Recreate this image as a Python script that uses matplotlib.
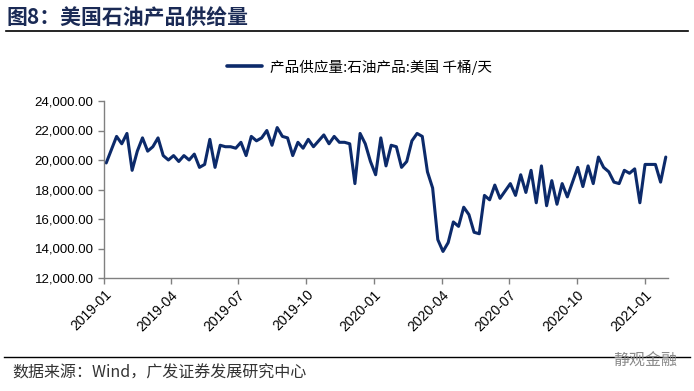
import matplotlib
matplotlib.use("Agg")
import matplotlib.pyplot as plt
from matplotlib.ticker import FuncFormatter
import pandas as pd

plt.rcParams['font.family'] = ['Liberation Sans', 'Noto Sans CJK SC', 'DejaVu Sans']

# weekly US petroleum product supplied, thousand barrels/day
start_date = "2019-01-04"
supply = [
    19800, 20700, 21600, 21100, 21800, 19300, 20600, 21500, 20600, 20900,
    21500, 20300, 20000, 20300, 19900, 20300, 20000, 20400, 19500, 19700,
    21400, 19500, 21000, 20900, 20900, 20800, 21200, 20300, 21600, 21300,
    21500, 22000, 21000, 22200, 21600, 21500, 20300, 21200, 20800, 21400,
    20900, 21300, 21700, 21100, 21600, 21200, 21200, 21100, 18400, 21800,
    21100, 19900, 19000, 21500, 19600, 21000, 20900, 19500, 19900, 21300,
    21800, 21600, 19200, 18100, 14600, 13800, 14400, 15800, 15500, 16800,
    16300, 15100, 15000, 17600, 17300, 18300, 17400, 17900, 18400, 17600,
    19000, 17800, 19300, 17100, 19600, 16900, 18600, 17000, 18400, 17500,
    18500, 19500, 18200, 19600, 18400, 20200, 19500, 19200, 18500, 18400,
    19300, 19100, 19400, 17100, 19700, 19700, 19700, 18500, 20200,
]
dates = pd.date_range(start_date, periods=len(supply), freq="7D")

tick_labels = ["2019-01", "2019-04", "2019-07", "2019-10", "2020-01",
               "2020-04", "2020-07", "2020-10", "2021-01"]
y_ticks = [12000, 14000, 16000, 18000, 20000, 22000, 24000]

title = "图8：美国石油产品供给量"
legend_label = "产品供应量:石油产品:美国 千桶/天"
source = "数据来源：Wind，广发证券发展研究中心"

navy = "#0c2a6a"
cjk = ['Noto Sans CJK SC', 'DejaVu Sans']

fig = plt.figure(figsize=(6.94, 3.91), dpi=100)
ax = fig.add_axes([104 / 694, 1 - 278 / 391, (668 - 104) / 694, (278 - 101) / 391])

ax.plot(dates, supply, color=navy, lw=2.2, solid_joinstyle="round",
        solid_capstyle="round", label=legend_label)

ax.set_ylim(12000, 24000)
ax.set_yticks(y_ticks)
ax.yaxis.set_major_formatter(FuncFormatter(lambda v, p: f"{v:,.2f}"))
ax.set_xlim(pd.Timestamp("2019-01-01"), pd.Timestamp("2021-02-01"))
ax.set_xticks([pd.Timestamp(t + "-01") for t in tick_labels])
ax.set_xticklabels(tick_labels, rotation=45, ha="right", rotation_mode="anchor")

for s in ["top", "right"]:
    ax.spines[s].set_visible(False)
for s in ["left", "bottom"]:
    ax.spines[s].set_color("#808080")
    ax.spines[s].set_linewidth(1.0)
ax.tick_params(axis="both", colors="#808080", length=4, width=1.0,
               labelsize=9.5, labelcolor="black", direction="out")
ax.tick_params(axis="x", pad=3, labelsize=10)

leg = fig.legend(loc="center", bbox_to_anchor=(0.518, 1 - 67 / 391), frameon=False,
                 fontsize=10.5, handlelength=2.4, handletextpad=0.5)
for t in leg.get_texts():
    t.set_family(cjk)
leg.get_lines()[0].set_linewidth(2.6)

fig.text(6 / 694, 1 - 17 / 391, title, fontsize=15, fontweight="bold",
         color="#1a2a55", va="center", ha="left", family=cjk)
fig.add_artist(plt.Line2D([6 / 694, 688 / 694], [1 - 31 / 391, 1 - 31 / 391],
                          color="black", lw=1.2))
fig.add_artist(plt.Line2D([4 / 694, 690 / 694], [1 - 357 / 391, 1 - 357 / 391],
                          color="black", lw=1.0))
fig.text(12 / 694, 1 - 373 / 391, source, fontsize=11.5, color="#333333",
         va="center", ha="left", family=cjk)
fig.text(677 / 694, 1 - 361 / 391, "静观金融", fontsize=11.5, color="#8a8a8a",
         va="center", ha="right", family=cjk)

fig.savefig("out.png", dpi=100)
